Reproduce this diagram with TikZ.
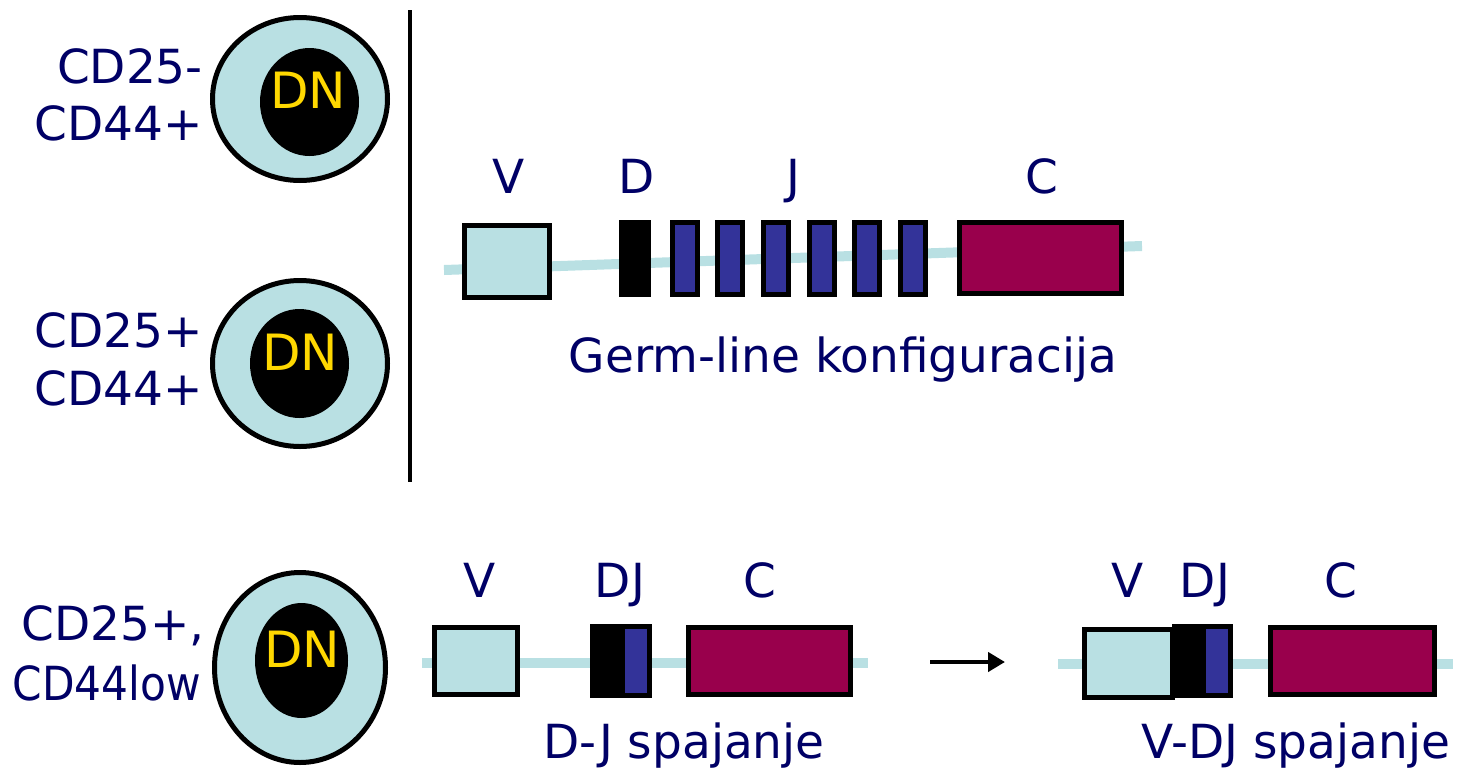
\documentclass[tikz,border=0pt]{standalone}
\usepackage{fontspec}
\setmainfont{DejaVu Sans}
\usetikzlibrary{shapes.geometric,arrows.meta}
\definecolor{navy}{HTML}{000066}
\definecolor{cellblue}{HTML}{B9E0E3}
\definecolor{jblue}{HTML}{333399}
\definecolor{cmag}{HTML}{99004C}
\definecolor{dnyellow}{HTML}{FFD800}
\begin{document}
\begin{tikzpicture}[x=1pt,y=-1pt,
  lbl/.style={text=navy,font=\fontsize{47}{52}\selectfont,inner sep=0pt,anchor=base},
  side/.style={lbl,anchor=base east},
  cell/.style={ellipse,draw=black,line width=5pt,fill=cellblue,inner sep=0pt},
  nucleus/.style={ellipse,fill=black,inner sep=0pt},
  dn/.style={text=dnyellow,font=\fontsize{50}{54}\selectfont,inner sep=0pt,anchor=base},
  strand/.style={cellblue,line width=10pt},
  vseg/.style={draw=black,line width=5pt,fill=cellblue,inner sep=0pt},
  jseg/.style={draw=black,line width=5pt,fill=jblue,inner sep=0pt},
  cseg/.style={draw=black,line width=5pt,fill=cmag,inner sep=0pt},
  dseg/.style={fill=black,inner sep=0pt},
  jcore/.style={fill=jblue,inner sep=0pt}]
\useasboundingbox (0,0) rectangle (1462,777);

% ---- cells ----
\node[cell,minimum width=175,minimum height=163] (cellA) at (300,99) {};
\node[nucleus,minimum width=99,minimum height=108] (nucA) at (309.5,102) {};
\node[dn] (dnA) at (308,108) {DN};
\node[side] (labA1) at (203,83) {CD25-};
\node[side] (labA2) at (203,140) {CD44+};

\node[cell,minimum width=175,minimum height=166] (cellB) at (300,363.5) {};
\node[nucleus,minimum width=99,minimum height=109] (nucB) at (299.5,363.5) {};
\node[dn] (dnB) at (300,370) {DN};
\node[side] (labB1) at (203,347) {CD25+};
\node[side] (labB2) at (203,405) {CD44+};

\node[cell,minimum width=171,minimum height=190] (cellC) at (300,667.5) {};
\node[nucleus,minimum width=93,minimum height=115] (nucC) at (301.5,660.5) {};
\node[dn] (dnC) at (302,667) {DN};
\node[side] (labC1) at (205,640) {CD25+,};
\node[side] (labC2) at (201,700) {\scalebox{0.9}[1]{CD44low}};

% ---- separator ----
\coordinate (sepT) at (410,10);
\coordinate (sepB) at (410,482);
\draw[line width=3.5pt] (sepT) -- (sepB);

% ---- germ-line configuration ----
\coordinate (g0) at (444,270);
\coordinate (g1) at (1142,246);
\draw[strand] (g0) -- (g1);
\node[vseg,minimum width=85,minimum height=72] (gV) at (507,261.5) {};
\node[dseg,minimum width=32,minimum height=77] (gD) at (635,258.5) {};
\foreach \x [count=\i] in {684.5,730,776,821.5,867,913}
  \node[jseg,minimum width=25,minimum height=72] (gJ\i) at (\x,258.5) {};
\node[cseg,minimum width=162,minimum height=71] (gC) at (1040.5,258) {};
\node[lbl] (tV) at (509,193) {V};
\node[lbl] (tD) at (637,193) {D};
\node[lbl] (tJ) at (793,193) {J};
\node[lbl] (tC) at (1042,193) {C};
\node[lbl] (tGerm) at (843,372) {Germ-line konfiguracija};

% ---- D-J joining ----
\coordinate (s0) at (422,663);
\coordinate (s1) at (868,663);
\draw[strand] (s0) -- (s1);
\node[vseg,minimum width=83,minimum height=67] (dV) at (476,661) {};
\node[dseg,minimum width=62,minimum height=74] (dD) at (621,661) {};
\node[jcore,minimum width=22,minimum height=64] (dJ) at (636,661) {};
\node[cseg,minimum width=162,minimum height=67] (dC) at (769.5,661) {};
\node[lbl] (uV) at (480,597) {V};
\node[lbl] (uDJ) at (620,597) {DJ};
\node[lbl] (uC) at (760,597) {C};
\node[lbl] (tDJ) at (684,758) {D-J spajanje};

% ---- arrow ----
\coordinate (a0) at (930,662);
\coordinate (a1) at (1005,662);
\draw[line width=4.5pt,-{Triangle[length=17pt,width=19pt]}] (a0) -- (a1);

% ---- V-DJ joining ----
\coordinate (r0) at (1058,664);
\coordinate (r1) at (1453,664);
\draw[strand] (r0) -- (r1);
\node[vseg,minimum width=88,minimum height=68] (rV) at (1128.5,663.5) {};
\node[dseg,minimum width=61,minimum height=74] (rD) at (1202.5,661) {};
\node[jcore,minimum width=22,minimum height=64] (rJ) at (1217,661) {};
\node[cseg,minimum width=164,minimum height=67] (rC) at (1352.5,661) {};
\node[lbl] (wV) at (1128,597) {V};
\node[lbl] (wDJ) at (1205,597) {DJ};
\node[lbl] (wC) at (1341,597) {C};
\node[lbl] (tVDJ) at (1296,758) {V-DJ spajanje};
\end{tikzpicture}
\end{document}
